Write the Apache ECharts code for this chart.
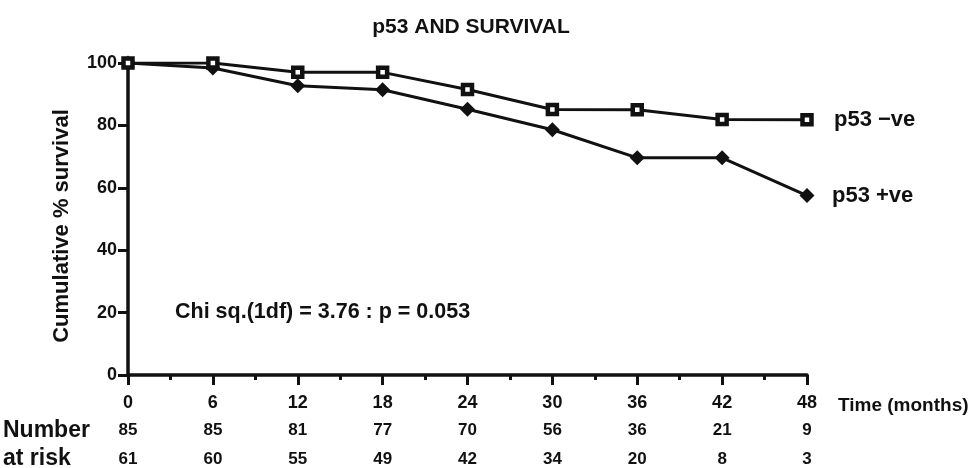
<!DOCTYPE html>
<html>
<head>
<meta charset="UTF-8">
<title>p53 and survival</title>
<script src="https://cdn.jsdelivr.net/npm/echarts@6/dist/echarts.min.js"></script>
</head>
<body style="margin:0;background:#fff;">
<div id="main" style="width:970px;height:468px;"></div>
<script type="text/javascript">
    // months at each tick
    var months = [0, 6, 12, 18, 24, 30, 36, 42, 48];
    // cumulative % survival
    var negValues = [100, 100, 97.0, 97.0, 91.5, 85.1, 85.0, 81.9, 81.8];
    var posValues = [100, 98.4, 92.7, 91.4, 85.2, 78.6, 69.6, 69.6, 57.5];
    // number at risk rows
    var riskNeg = [85, 85, 81, 77, 70, 56, 36, 21, 9];
    var riskPos = [61, 60, 55, 49, 42, 34, 20, 8, 3];

    var font = 'Liberation Sans, Arial, sans-serif';
    var ink = '#111';
    var wt = 'bold';

    function pairs(vals) {
        var out = [];
        for (var i = 0; i < months.length; i++) {
            out.push([months[i], vals[i]]);
        }
        return out;
    }
    function riskLabel(row) {
        return function (v) {
            var i = months.indexOf(v);
            return i < 0 ? '' : String(row[i]);
        };
    }

    var myChart = echarts.init(document.getElementById('main'));
    var hiddenAxis = { show: false };

    myChart.setOption({
        animation: false,
        backgroundColor: '#fff',
        title: {
            text: 'p53 AND SURVIVAL',
            left: 466,
            top: 12,
            textAlign: 'center',
            textStyle: { fontFamily: font, fontSize: 21, fontWeight: wt, color: ink }
        },
        grid: { left: 128, right: 163, top: 63, bottom: 92 },
        xAxis: [{
            type: 'value', min: 0, max: 48, interval: 6,
            axisLine: { lineStyle: { color: ink, width: 3.5 } },
            axisTick: { inside: false, length: 10, lineStyle: { width: 3 } },
            minorTick: { show: true, splitNumber: 2, length: 5, lineStyle: { color: ink, width: 3 } },
            splitLine: { show: false },
            axisLabel: { margin: 19, fontFamily: font, fontSize: 18, fontWeight: wt, color: ink }
        }, {
            // number at risk, p53 -ve
            type: 'value', min: 0, max: 48, interval: 6, position: 'bottom',
            axisLine: hiddenAxis, axisTick: hiddenAxis, splitLine: hiddenAxis,
            axisLabel: { margin: 47, fontFamily: font, fontSize: 17, fontWeight: wt, color: ink, formatter: riskLabel(riskNeg) }
        }, {
            // number at risk, p53 +ve
            type: 'value', min: 0, max: 48, interval: 6, position: 'bottom',
            axisLine: hiddenAxis, axisTick: hiddenAxis, splitLine: hiddenAxis,
            axisLabel: { margin: 76, fontFamily: font, fontSize: 17, fontWeight: wt, color: ink, formatter: riskLabel(riskPos) }
        }],
        yAxis: {
            type: 'value', min: 0, max: 100, interval: 20,
            name: 'Cumulative % survival',
            nameLocation: 'middle',
            nameRotate: 90,
            nameGap: 55,
            nameTextStyle: { fontFamily: font, fontSize: 22, fontWeight: wt, color: ink, padding: [0, 14, 0, 0] },
            axisLine: { show: true, lineStyle: { color: ink, width: 3.5 } },
            axisTick: { show: true, length: 10, lineStyle: { width: 3 } },
            splitLine: { show: false },
            axisLabel: { margin: 11, fontFamily: font, fontSize: 18, fontWeight: wt, color: ink }
        },
        series: [{
            name: 'p53 \u2212ve',
            type: 'line',
            data: pairs(negValues),
            symbol: 'rect',
            symbolSize: 9,
            lineStyle: { color: ink, width: 3 },
            itemStyle: { color: '#fff', borderColor: ink, borderWidth: 4.5 },
            z: 3,
            endLabel: { show: true, formatter: '{a}', distance: 27, fontFamily: font, fontSize: 22, fontWeight: wt, color: ink }
        }, {
            name: 'p53 +ve',
            type: 'line',
            data: pairs(posValues),
            symbol: 'diamond',
            symbolSize: 15,
            lineStyle: { color: ink, width: 3 },
            itemStyle: { color: ink },
            z: 2,
            endLabel: { show: true, formatter: '{a}', distance: 25, fontFamily: font, fontSize: 22, fontWeight: wt, color: ink }
        }],
        graphic: [{
            type: 'text', left: 175, top: 301,
            style: { text: 'Chi sq.(1df) = 3.76 : p = 0.053', font: wt + ' 21.5px ' + font, fill: ink }
        }, {
            type: 'text', left: 838, top: 396,
            style: { text: 'Time (months)', font: wt + ' 19px ' + font, fill: ink }
        }, {
            type: 'text', left: 3, top: 419,
            style: { text: 'Number', font: wt + ' 23px ' + font, fill: ink }
        }, {
            type: 'text', left: 3, top: 447,
            style: { text: 'at risk', font: wt + ' 23px ' + font, fill: ink }
        }]
    });
</script>
</body>
</html>
